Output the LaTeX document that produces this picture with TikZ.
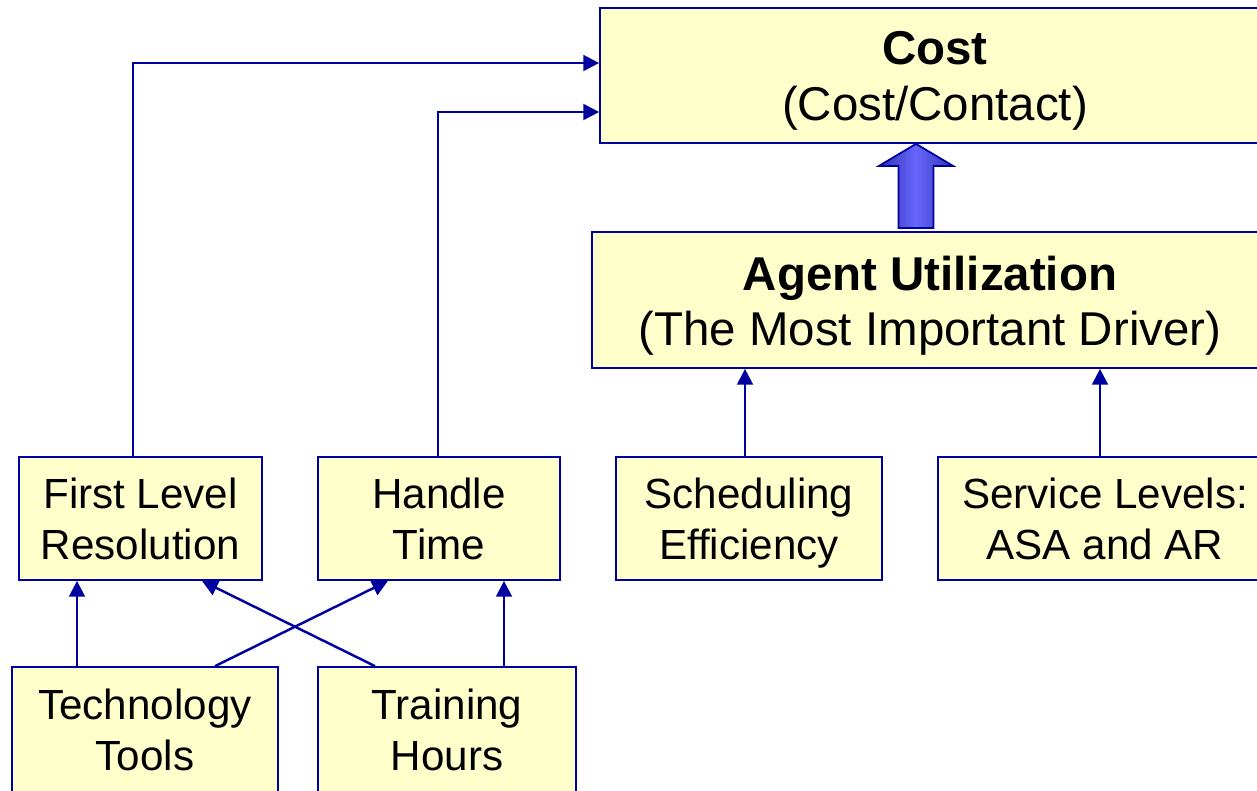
\documentclass[tikz,border=0pt]{standalone}
\usepackage{fontspec}
\setmainfont{Liberation Sans}
\usepackage{xcolor}
\usepackage{tikz}
\usetikzlibrary{arrows.meta}
\definecolor{navy}{HTML}{0000A0}
\definecolor{pale}{HTML}{FFFFCC}

\begin{document}
\begin{tikzpicture}[
  box/.style={draw=navy,line width=1pt,fill=pale,align=center,inner sep=0pt},
  big/.style={box,font=\fontsize{27}{31.5}\selectfont},
  sm/.style={box,font=\fontsize{24}{29}\selectfont},
  >={Triangle[length=9pt,width=9pt]},
  ed/.style={->,navy,line width=1.4pt},
  fat/.style={draw=navy,line width=1pt,left color=blue!60!black!80,right color=blue!60!black!80,middle color=blue!60!white}
]
\useasboundingbox (0,0) rectangle (25.14,-15.82);
% ---------------- top row ----------------
\node[big,minimum width=13.4cm,minimum height=2.7cm]   (cost)  at (18.70,-1.51) {\rule{0pt}{25pt}\textbf{Cost}\\(Cost/Contact)};
\node[big,minimum width=13.52cm,minimum height=2.72cm] (agent) at (18.60,-6.00) {\rule{0pt}{26pt}\textbf{Agent Utilization}\\(The Most Important Driver)};

% ---------------- middle row ----------------
\node[sm,minimum width=4.86cm,minimum height=2.46cm] (flr)   at (2.81,-10.37)  {First Level\\Resolution};
\node[sm,minimum width=4.84cm,minimum height=2.46cm] (ht)    at (8.78,-10.37)  {Handle\\Time};
\node[sm,minimum width=5.32cm,minimum height=2.46cm] (sched) at (14.98,-10.37) {\rule{0pt}{22.5pt}Scheduling\\Efficiency};
\node[sm,minimum width=6.68cm,minimum height=2.46cm] (serv)  at (22.10,-10.37) {Service Levels:\\ASA and AR};

% ---------------- bottom row ----------------
\node[sm,minimum width=5.32cm,minimum height=2.52cm] (tech)  at (2.90,-14.60) {Technology\\Tools};
\node[sm,minimum width=5.16cm,minimum height=2.52cm] (train) at (8.94,-14.60) {Training\\Hours};

% ---------------- connectors ----------------
\draw[ed] (2.66,0 |- flr.north) |- (cost.west |- 0,-1.26);
\draw[ed] (8.76,0 |- ht.north)  |- (cost.west |- 0,-2.24);
\draw[ed] (14.90,0 |- sched.north) -- (14.90,0 |- agent.south);
\draw[ed] (22.00,0 |- serv.north)  -- (22.00,0 |- agent.south);
\draw[ed] (1.54,0 |- tech.north)   -- (1.54,0 |- flr.south);
\draw[ed] (4.30,0 |- tech.north)   -- (7.76,0 |- ht.south);
\draw[ed] (7.50,0 |- train.north)  -- (4.04,0 |- flr.south);
\draw[ed] (10.08,0 |- train.north) -- (10.08,0 |- ht.south);

% fat arrow agent -> cost
\coordinate (tip) at (18.32,0 |- cost.south);
\draw[fat] (tip) -- ++(0.74,-0.44) -- ++(-0.39,0) -- ++(0,-1.24) -- ++(-0.70,0)
  -- ++(0,1.24) -- ++(-0.39,0) -- cycle;
\end{tikzpicture}
\end{document}
